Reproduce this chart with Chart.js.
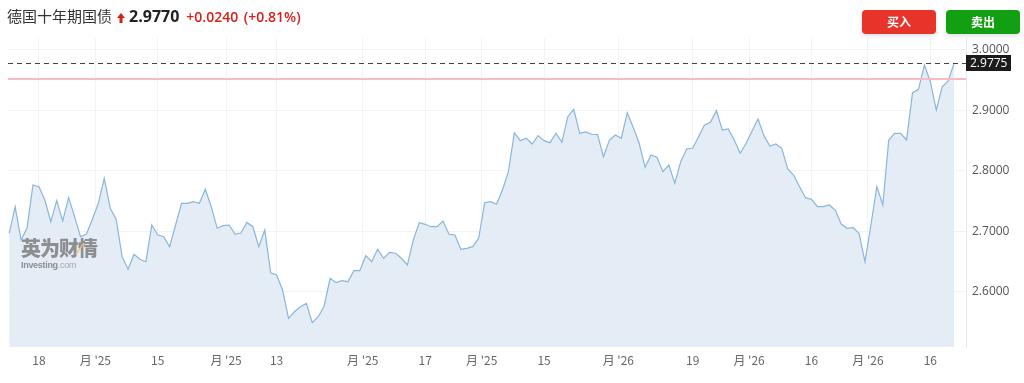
<!DOCTYPE html>
<html>
<head>
<meta charset="utf-8">
<script src="https://cdn.jsdelivr.net/npm/chart.js@4/dist/chart.umd.min.js"></script>
<style>
  html, body { margin: 0; padding: 0; background: #fff; }
  body { width: 1024px; height: 383px; position: relative; overflow: hidden;
         font-family: "Noto Sans CJK SC", "Noto Sans", sans-serif; }
  #wrap { position: absolute; left: 0; top: 0; width: 1024px; height: 383px; }
  .head { position: absolute; left: 7px; top: 5px; font-size: 15px; color: #333; white-space: nowrap; }
  .head svg { margin-left: 5px; vertical-align: -1px; }
  .head .last { font-family: "Open Sans", sans-serif; font-weight: 700; font-size: 16px; color: #222; margin-left: 4px; }
  .head .chg { font-family: "Open Sans", sans-serif; font-weight: 600; font-size: 14px; color: #d91e18; margin-left: 7px; word-spacing: 2px; }
  .btn { position: absolute; top: 10px; width: 74px; height: 24px; border-radius: 4px; color: #fff;
         font-size: 12px; font-weight: 700; text-align: center; line-height: 24px;
         box-shadow: 0 2px 5px rgba(0,0,0,0.12); }
  .buy { left: 862px; background: #e8332a; }
  .sell { left: 946px; background: #12a012; }
  .wm { position: absolute; left: 21px; top: 236px; color: #7d7d7d; opacity: 0.85; }
  .wm .cn { font-size: 20px; font-weight: 900; letter-spacing: -1px; line-height: 24px; position: relative; }
  .wm .cn i { position: absolute; left: 58px; top: 7px; width: 2px; height: 11px; background: #f2c14e; opacity: 0.8; transform: skewX(-35deg); }
  .wm .en { font-family: Arial, "Liberation Sans", sans-serif; font-size: 9px; font-weight: 700; line-height: 10px; letter-spacing: -0.3px; }
  .wm .en span { font-weight: 400; color: #999; }
</style>
</head>
<body>
<div id="wrap"><canvas id="c" width="1024" height="383"></canvas></div>
<div class="head">德国十年期国债<svg width="8" height="10" viewBox="0 0 8 10"><path d="M4 0 L8 5 L5.5 5 L5.5 10 L2.5 10 L2.5 5 L0 5 Z" fill="#d91e18"/></svg><span class="last">2.9770</span><span class="chg">+0.0240 (+0.81%)</span></div>
<div class="btn buy">买入</div>
<div class="btn sell">卖出</div>
<div class="wm"><div class="cn">英为财情<i></i></div><div class="en">Investing<span>.com</span></div></div>
<script>
// yield series (one point per trading day)
const yields = [
  2.6965, 2.7405, 2.6855, 2.7053, 2.7764, 2.7736, 2.7516, 2.7157, 2.7504, 2.7169,
  2.7554, 2.7240, 2.6909, 2.6954, 2.7197, 2.7461, 2.7874, 2.7379, 2.7197, 2.6579,
  2.6370, 2.6618, 2.6536, 2.6496, 2.7102, 2.6937, 2.6909, 2.6744, 2.7102, 2.7461,
  2.7461, 2.7488, 2.7461, 2.7693, 2.7405, 2.7048, 2.7091, 2.7102, 2.6954, 2.6970,
  2.7144, 2.7074, 2.6744, 2.7020, 2.6314, 2.6276, 2.6028, 2.5560, 2.5669, 2.5752,
  2.5808, 2.5488, 2.5587, 2.5764, 2.6221, 2.6149, 2.6182, 2.6165, 2.6347, 2.6347,
  2.6595, 2.6496, 2.6701, 2.6552, 2.6651, 2.6635, 2.6552, 2.6441, 2.6855, 2.7140,
  2.7114, 2.7074, 2.7074, 2.7169, 2.6949, 2.6937, 2.6701, 2.6717, 2.6744, 2.6883,
  2.7471, 2.7488, 2.7445, 2.7681, 2.7983, 2.8628, 2.8496, 2.8536, 2.8441, 2.8579,
  2.8496, 2.8463, 2.8618, 2.8469, 2.8893, 2.9015, 2.8618, 2.8640, 2.8602, 2.8595,
  2.8231, 2.8507, 2.8590, 2.8536, 2.8959, 2.8717, 2.8453, 2.8056, 2.8260, 2.8221,
  2.7983, 2.8094, 2.7792, 2.8149, 2.8359, 2.8370, 2.8562, 2.8755, 2.8800, 2.8992,
  2.8673, 2.8689, 2.8507, 2.8288, 2.8453, 2.8656, 2.8855, 2.8579, 2.8408, 2.8441,
  2.8370, 2.8028, 2.7929, 2.7736, 2.7554, 2.7527, 2.7405, 2.7405, 2.7433, 2.7350,
  2.7119, 2.7048, 2.7058, 2.6965, 2.6496, 2.7102, 2.7736, 2.7433, 2.8507, 2.8618,
  2.8618, 2.8507, 2.9289, 2.9345, 2.9747, 2.9471, 2.9003, 2.9388, 2.9483, 2.9775
];
const prevClose = 2.9510;

// x tick positions (in trading-day index) and their labels
const xTickPos = [5, 14.5, 25, 36.5, 45, 59.5, 70, 79.5, 90, 102.5, 115, 124.5, 135, 144.5, 155];
const xTickLabels = ['18', "月 '25", '15', "月 '25", '13', "月 '25", '17', "月 '25",
                     '15', "月 '26", '19', "月 '26", '16', "月 '26", '16'];
const yTicks = [2.6, 2.7, 2.8, 2.9, 3.0];

const points = yields.map((v, i) => ({ x: i, y: v }));

const markers = {
  id: 'markers',
  afterDatasetsDraw(chart) {
    const { ctx, chartArea: a, scales: { y } } = chart;
    const last = yields[yields.length - 1];
    ctx.save();
    // previous close
    const yp = Math.round(y.getPixelForValue(prevClose));
    ctx.fillStyle = '#f6bcc2';
    ctx.fillRect(a.left, yp - 1, a.right - a.left, 2);
    // last price dashed line
    const yl = Math.round(y.getPixelForValue(last)) + 0.5;
    ctx.strokeStyle = '#444';
    ctx.lineWidth = 1;
    ctx.setLineDash([5, 4]);
    ctx.beginPath(); ctx.moveTo(a.left, yl); ctx.lineTo(a.right, yl); ctx.stroke();
    ctx.setLineDash([]);
    // last price tag
    ctx.fillStyle = '#1b1b1b';
    ctx.fillRect(a.right, yl - 8.5, 45, 16);
    ctx.fillStyle = '#fff';
    ctx.font = '12px "Open Sans", sans-serif';
    ctx.textBaseline = 'middle';
    ctx.fillText(last.toFixed(4), a.right + 4, yl);
    ctx.restore();
  }
};

new Chart(document.getElementById('c'), {
  type: 'line',
  data: {
    datasets: [{
      data: points,
      borderColor: '#8ab6da',
      backgroundColor: '#e4edf6',
      borderWidth: 1.2,
      fill: 'start',
      tension: 0,
      pointRadius: 0
    }]
  },
  options: {
    responsive: false,
    animation: false,
    layout: { padding: { top: 38, left: 8, right: 0, bottom: 0 } },
    plugins: { legend: { display: false }, tooltip: { enabled: false } },
    scales: {
      x: {
        type: 'linear',
        min: -0.2,
        max: 161,
        afterBuildTicks: s => { s.ticks = xTickPos.map(v => ({ value: v })); },
        afterFit: s => { s.height = 36; },
        ticks: {
          autoSkip: false,
          maxRotation: 0,
          padding: 6,
          color: '#666',
          font: { size: 12, family: '"Noto Sans CJK SC", "Open Sans", sans-serif' },
          callback: (v) => xTickLabels[xTickPos.indexOf(v)]
        },
        grid: { color: '#f1f3f5', drawTicks: false },
        border: { display: false }
      },
      y: {
        position: 'right',
        min: 2.5086,
        max: 3.0193,
        afterBuildTicks: s => { s.ticks = yTicks.map(v => ({ value: v })); },
        afterFit: s => { s.width = 58; },
        ticks: {
          padding: 6,
          color: '#555',
          font: { size: 12, family: '"Open Sans", sans-serif' },
          callback: v => v.toFixed(4)
        },
        grid: { color: '#f1f3f5', drawTicks: false },
        border: { display: true, color: '#e6e8ea' }
      }
    }
  },
  plugins: [markers]
});
</script>
</body>
</html>
